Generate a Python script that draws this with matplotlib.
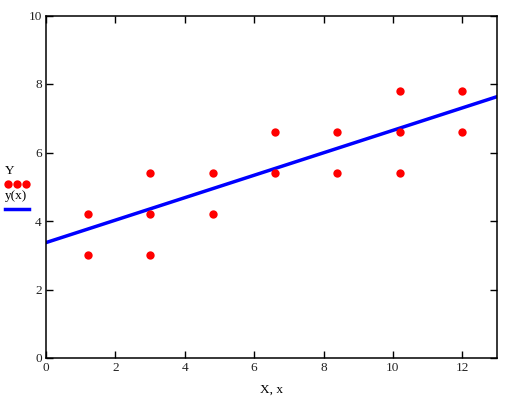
import matplotlib.pyplot as plt
from matplotlib.lines import Line2D

# measured points
X = [1.2, 1.2, 3.0, 3.0, 3.0, 4.8, 4.8, 6.6, 6.6, 8.4, 8.4, 10.2, 10.2, 10.2, 12.0, 12.0]
Y = [3.0, 4.2, 3.0, 4.2, 5.4, 4.2, 5.4, 5.4, 6.6, 5.4, 6.6, 5.4, 6.6, 7.8, 6.6, 7.8]

# fitted line y(x), read at the plot edges
x_line = [0.0, 13.0]
y_line = [3.37, 7.63]

x_ticks = [0, 2, 4, 6, 8, 10, 12]
y_ticks = [0, 2, 4, 6, 8, 10]

plt.rcParams['font.family'] = ['Liberation Serif', 'DejaVu Serif']

fig = plt.figure(figsize=(5.13, 3.98), dpi=100)
W, H = 513, 398
ax = fig.add_axes([46 / W, 1 - 358 / H, (497 - 46) / W, (358 - 15.5) / H])

ax.plot(x_line, y_line, color='#0000ff', lw=2.5, zorder=2)
ax.plot(X, Y, 'o', color='#ff0000', ms=6, mec='none', zorder=3)

ax.set_xlim(0, 13)
ax.set_ylim(0, 10)
ax.set_xticks(x_ticks)
ax.set_yticks(y_ticks)
ax.tick_params(direction='in', length=5, width=1, top=True, right=True,
               labelsize=9.5, labelcolor='#222222', pad=3)
for s in ax.spines.values():
    s.set_linewidth(1.1)
ax.set_xlabel('X, x', fontsize=9.5, labelpad=7)

# Mathcad-style legend on the left
fig.text(10 / W, 1 - 171 / H, 'Y', fontsize=9.5, ha='center', va='center')
fig.add_artist(Line2D([8 / W, 17 / W, 26 / W], [1 - 184 / H] * 3, ls='none',
                      marker='o', ms=6, color='#ff0000', mec='none'))
fig.text(16 / W, 1 - 196 / H, 'y(x)', fontsize=9.5, ha='center', va='center')
fig.add_artist(Line2D([5 / W, 29 / W], [1 - 209 / H] * 2, color='#0000ff', lw=2.5))

fig.savefig('out.png', dpi=100)
